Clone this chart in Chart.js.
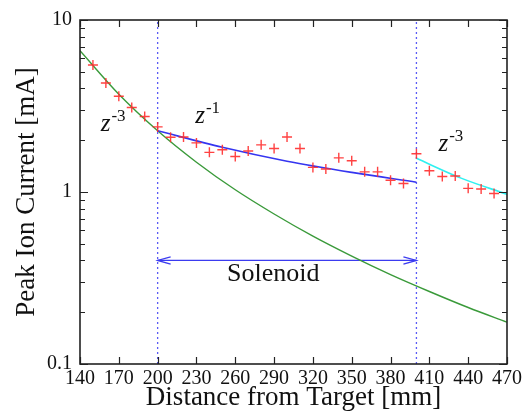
<!DOCTYPE html>
<html>
<head>
<title>Peak Ion Current vs Distance</title>
<script src="https://cdn.jsdelivr.net/npm/chart.js@4.4.1/dist/chart.umd.min.js"></script>
<style>
  body { margin: 0; background: #fff; }
</style>
</head>
<body>
<canvas id="myChart" width="530" height="414"></canvas>
<script>
// measured ion current (red crosses)
const distances = [150, 160, 170, 180, 190, 200, 210, 220, 230, 240, 250, 260, 270, 280, 290, 300,
  310, 320, 330, 340, 350, 360, 370, 380, 390, 400, 410, 420, 430, 440, 450, 460];
const currents = [5.47, 4.30, 3.60, 3.10, 2.75, 2.39, 2.08, 2.09, 1.93, 1.70, 1.76, 1.61, 1.73, 1.88, 1.79, 2.09,
  1.79, 1.39, 1.36, 1.58, 1.52, 1.31, 1.31, 1.17, 1.12, 1.67, 1.33, 1.23, 1.24, 1.05, 1.04, 0.98];

// green z^-3 curve
const greenX = [140, 170, 200, 230, 260, 290, 320, 350, 380, 410, 440, 470];
const greenY = [6.62, 3.70, 2.27, 1.49, 1.03, 0.745, 0.554, 0.424, 0.331, 0.264, 0.213, 0.175];

// blue z^-1 line inside the solenoid
const blueX = [200, 250, 300, 350, 400];
const blueY = [2.27, 1.82, 1.51, 1.30, 1.14];

// cyan z^-3 line after the solenoid
const cyanX = [400, 435, 470];
const cyanY = [1.57, 1.20, 0.97];

// solenoid edges and arrow level
const solenoidEdges = [200, 400];
const arrowLevel = 0.4;

const xTicks = [140, 170, 200, 230, 260, 290, 320, 350, 380, 410, 440, 470];
const yTicks = [0.1, 0.2, 0.3, 0.4, 0.5, 0.6, 0.7, 0.8, 0.9, 1, 2, 3, 4, 5, 6, 7, 8, 9, 10];
const yLabels = [0.1, 1, 10];

const SERIF = '"Liberation Serif", "Times New Roman", serif';

function pts(xs, ys) {
  return xs.map((x, i) => ({ x: x, y: ys[i] }));
}

const framePlugin = {
  id: 'frame',
  afterDraw(chart) {
    const ctx = chart.ctx;
    const a = chart.chartArea;
    const xs = chart.scales.x, ys = chart.scales.y;
    ctx.save();

    // inward ticks
    ctx.strokeStyle = '#222';
    ctx.lineWidth = 1.2;
    ctx.beginPath();
    xTicks.forEach(v => {
      const px = Math.round(xs.getPixelForValue(v)) + 0.5;
      ctx.moveTo(px, a.bottom); ctx.lineTo(px, a.bottom - 7);
      ctx.moveTo(px, a.top); ctx.lineTo(px, a.top + 7);
    });
    yTicks.forEach(v => {
      const py = Math.round(ys.getPixelForValue(v)) + 0.5;
      const len = yLabels.includes(v) ? 8 : 5;
      ctx.moveTo(a.left, py); ctx.lineTo(a.left + len, py);
      ctx.moveTo(a.right, py); ctx.lineTo(a.right - len, py);
    });
    ctx.stroke();

    // box
    ctx.lineWidth = 1.6;
    ctx.strokeStyle = '#222';
    ctx.strokeRect(a.left, a.top, a.right - a.left, a.bottom - a.top);

    // arrow heads of the solenoid arrow
    const ay = ys.getPixelForValue(arrowLevel);
    const x0 = xs.getPixelForValue(solenoidEdges[0]);
    const x1 = xs.getPixelForValue(solenoidEdges[1]);
    ctx.strokeStyle = '#3b3bf0';
    ctx.lineWidth = 1.3;
    ctx.beginPath();
    ctx.moveTo(x0 + 13, ay - 3.6); ctx.lineTo(x0, ay); ctx.lineTo(x0 + 13, ay + 3.6);
    ctx.moveTo(x1 - 13, ay - 3.6); ctx.lineTo(x1, ay); ctx.lineTo(x1 - 13, ay + 3.6);
    ctx.stroke();

    // text labels
    ctx.fillStyle = '#111';
    ctx.textBaseline = 'alphabetic';
    ctx.textAlign = 'left';
    const powerLabels = [
      { x: 156, y: 2.27, sup: '-3' },
      { x: 229, y: 2.53, sup: '-1' },
      { x: 417, y: 1.72, sup: '-3' }
    ];
    powerLabels.forEach(l => {
      const px = xs.getPixelForValue(l.x), py = ys.getPixelForValue(l.y);
      ctx.font = 'italic 25px ' + SERIF;
      ctx.fillText('z', px, py);
      const w = ctx.measureText('z').width;
      ctx.font = '17px ' + SERIF;
      ctx.fillText(l.sup, px + w + 1, py - 10);
    });
    ctx.font = '26px ' + SERIF;
    ctx.fillText('Solenoid', xs.getPixelForValue(253.6), ys.getPixelForValue(0.302));
    ctx.restore();
  }
};

new Chart('myChart', {
  type: 'line',
  data: {
    datasets: [
      {
        label: 'Peak Ion Current',
        data: pts(distances, currents),
        showLine: false,
        pointStyle: 'cross',
        pointRadius: 5,
        pointBorderWidth: 1.4,
        borderColor: 'rgba(255, 45, 45, 0.9)',
        backgroundColor: 'rgba(255, 45, 45, 0.9)'
      },
      {
        label: 'z-1',
        data: pts(blueX, blueY),
        borderColor: '#3535f0',
        borderWidth: 1.6,
        pointRadius: 0,
        cubicInterpolationMode: 'monotone'
      },
      {
        label: 'z-3 after',
        data: pts(cyanX, cyanY),
        borderColor: '#2ff0f0',
        borderWidth: 1.6,
        pointRadius: 0,
        cubicInterpolationMode: 'monotone'
      },
      {
        label: 'z-3',
        data: pts(greenX, greenY),
        borderColor: '#3a9a3a',
        borderWidth: 1.4,
        pointRadius: 0,
        cubicInterpolationMode: 'monotone'
      },
      {
        label: 'arrow',
        data: pts(solenoidEdges, [arrowLevel, arrowLevel]),
        borderColor: '#3b3bf0',
        borderWidth: 1.3,
        pointRadius: 0
      },
      {
        label: 'edge 1',
        data: pts([solenoidEdges[0], solenoidEdges[0]], [0.1, 10]),
        borderColor: '#5a5af5',
        borderWidth: 1.3,
        borderDash: [2, 3],
        pointRadius: 0
      },
      {
        label: 'edge 2',
        data: pts([solenoidEdges[1], solenoidEdges[1]], [0.1, 10]),
        borderColor: '#5a5af5',
        borderWidth: 1.3,
        borderDash: [2, 3],
        pointRadius: 0
      }
    ]
  },
  options: {
    responsive: false,
    animation: false,
    layout: { padding: { top: 20, right: 23, left: 0, bottom: 0 } },
    plugins: {
      legend: { display: false },
      tooltip: { enabled: false }
    },
    scales: {
      x: {
        type: 'linear',
        min: 140,
        max: 470,
        grid: { display: false, drawTicks: false },
        border: { display: false },
        afterBuildTicks: s => { s.ticks = xTicks.map(v => ({ value: v })); },
        afterFit: s => { s.height = 50; },
        ticks: {
          autoSkip: false,
          maxRotation: 0,
          padding: 3,
          color: '#111',
          font: { family: SERIF, size: 20 }
        },
        title: {
          display: true,
          text: 'Distance from Target [mm]',
          color: '#111',
          padding: { top: 0, bottom: 0 },
          font: { family: SERIF, size: 27 }
        }
      },
      y: {
        type: 'logarithmic',
        min: 0.1,
        max: 10,
        grid: { display: false, drawTicks: false },
        border: { display: false },
        afterBuildTicks: s => { s.ticks = yTicks.map(v => ({ value: v })); },
        afterFit: s => { s.width = 80; },
        ticks: {
          autoSkip: false,
          padding: 8,
          color: '#111',
          font: { family: SERIF, size: 20 },
          callback: v => yLabels.includes(v) ? String(v) : ''
        },
        title: {
          display: true,
          text: 'Peak Ion Current [mA]',
          color: '#111',
          padding: { top: 11, bottom: 0 },
          font: { family: SERIF, size: 27 }
        }
      }
    }
  },
  plugins: [framePlugin]
});
</script>
</body>
</html>
